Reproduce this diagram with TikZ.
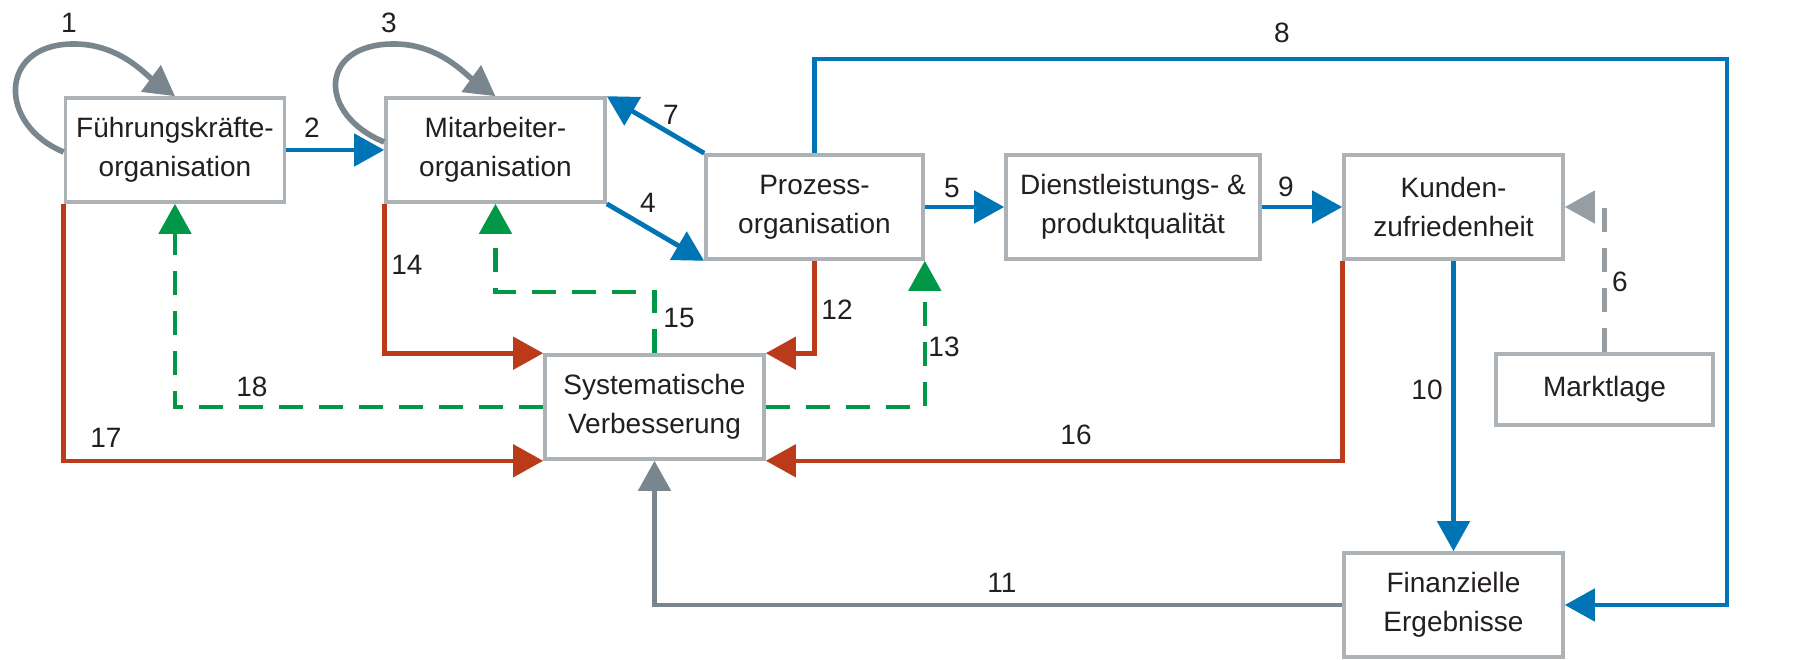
\documentclass[tikz,border=0pt]{standalone}
\usepackage{fontspec}
\setmainfont{Liberation Sans}
\usetikzlibrary{arrows.meta,calc}

\definecolor{flowblue}{RGB}{0,117,182}
\definecolor{flowred}{RGB}{186,58,26}
\definecolor{flowgreen}{RGB}{0,152,70}
\definecolor{flowgrey}{RGB}{122,134,142}
\definecolor{dashgrey}{RGB}{150,158,163}
\definecolor{boxgrey}{RGB}{172,178,182}
\definecolor{inkcol}{RGB}{35,31,32}

\begin{document}
\begin{tikzpicture}[x=0.5pt,y=-0.5pt,
  box/.style={draw=boxgrey, line width=1.8pt, fill=white, minimum height=52pt,
    minimum width=109.5pt, inner sep=0pt, align=center, text=inkcol,
    font=\fontsize{14}{19.5}\selectfont},
  num/.style={text=inkcol, font=\fontsize{14}{16}\selectfont, inner sep=0pt},
  tip/.style={-{Triangle[length=15pt,width=16pt]}},
  blueflow/.style={tip, draw=flowblue, fill=none, line width=2.4pt},
  redflow/.style={tip, draw=flowred, line width=2.3pt},
  greenflow/.style={tip, draw=flowgreen, line width=2.3pt, dash pattern=on 12pt off 8pt},
  greyflow/.style={tip, draw=flowgrey, line width=2.4pt},
  greydash/.style={tip, draw=dashgrey, line width=2.3pt, dash pattern=on 12pt off 8pt},
  loopflow/.style={tip, draw=flowgrey, line width=2.8pt}
]
\useasboundingbox (0,0) rectangle (1816,659);

% boxes
\node[box] (F) at (175,150) {Führungskräfte-\\organisation};
\node[box] (M) at (495.5,150) {Mitarbeiter-\\organisation};
\node[box, minimum width=108.5pt] (P) at (814.5,207) {Prozess-\\organisation};
\node[box, minimum width=127pt] (D) at (1133,207) {Dienstleistungs- \&\\produktqualität};
\node[box] (K) at (1453.5,207) {Kunden-\\zufriedenheit};
\node[box] (S) at (654.5,407) {Systematische\\Verbesserung};
\node[box, minimum width=108.5pt, minimum height=35.5pt] (Mk) at (1604.5,389.5) {Marktlage};
\node[box] (Fin) at (1453.5,605) {Finanzielle\\Ergebnisse};

% helper corners
\coordinate (c8) at (1727,59);
\coordinate (c15) at (495.5,292);

% self loops
\draw[loopflow] ([yshift=-1pt]F.west) .. controls (-2,125) and (-2,45) .. (72,44)
  .. controls (118,43) and (145,74) .. (F.north);
\draw[loopflow] ([yshift=4pt]M.west) .. controls (318,115) and (318,45) .. (392,44)
  .. controls (438,43) and (465,74) .. (M.north);

% blue flows
\draw[blueflow] (F.east) -- (M.west);
\draw[blueflow] (M.south east) -- (P.south west);
\draw[blueflow] (P.north west) -- (M.north east);
\draw[blueflow] (P.east) -- (D.west);
\draw[blueflow] (D.east) -- (K.west);
\draw[blueflow] (P.north) |- (c8) |- (Fin.east);
\draw[blueflow] (K.south) -- (Fin.north);

% market influence
\draw[greydash] (Mk.north) |- (K.east);

% grey feedback
\draw[greyflow] (Fin.west) -| (S.south);

% red flows
\draw[redflow] (P.south) |- (S.north east);
\draw[redflow] (M.south west) |- (S.north west);
\draw[redflow] (K.south west) |- (S.south east);
\draw[redflow] (F.south west) |- (S.south west);

% green dashed flows
\draw[greenflow] (S.east) -| (P.south east);
\draw[greenflow] (S.north) |- (c15) -- (M.south);
\draw[greenflow] (S.west) -| (F.south);

% numbers
\node[num] (l1) at (69,23) {1};
\node[num] (l2) at (312,128) {2};
\node[num] (l3) at (389,23) {3};
\node[num] (l4) at (648,203) {4};
\node[num] (l5) at (952,188) {5};
\node[num] (l6) at (1620,282) {6};
\node[num] (l7) at (671,115) {7};
\node[num] (l8) at (1282,33) {8};
\node[num] (l9) at (1286,187) {9};
\node[num] (l10) at (1427,390) {10};
\node[num] (l11) at (1002,583) {11};
\node[num] (l12) at (837,310) {12};
\node[num] (l13) at (944,347) {13};
\node[num] (l14) at (407,265) {14};
\node[num] (l15) at (679,318) {15};
\node[num] (l16) at (1076,435) {16};
\node[num] (l17) at (106,438) {17};
\node[num] (l18) at (252,387) {18};
\end{tikzpicture}
\end{document}
